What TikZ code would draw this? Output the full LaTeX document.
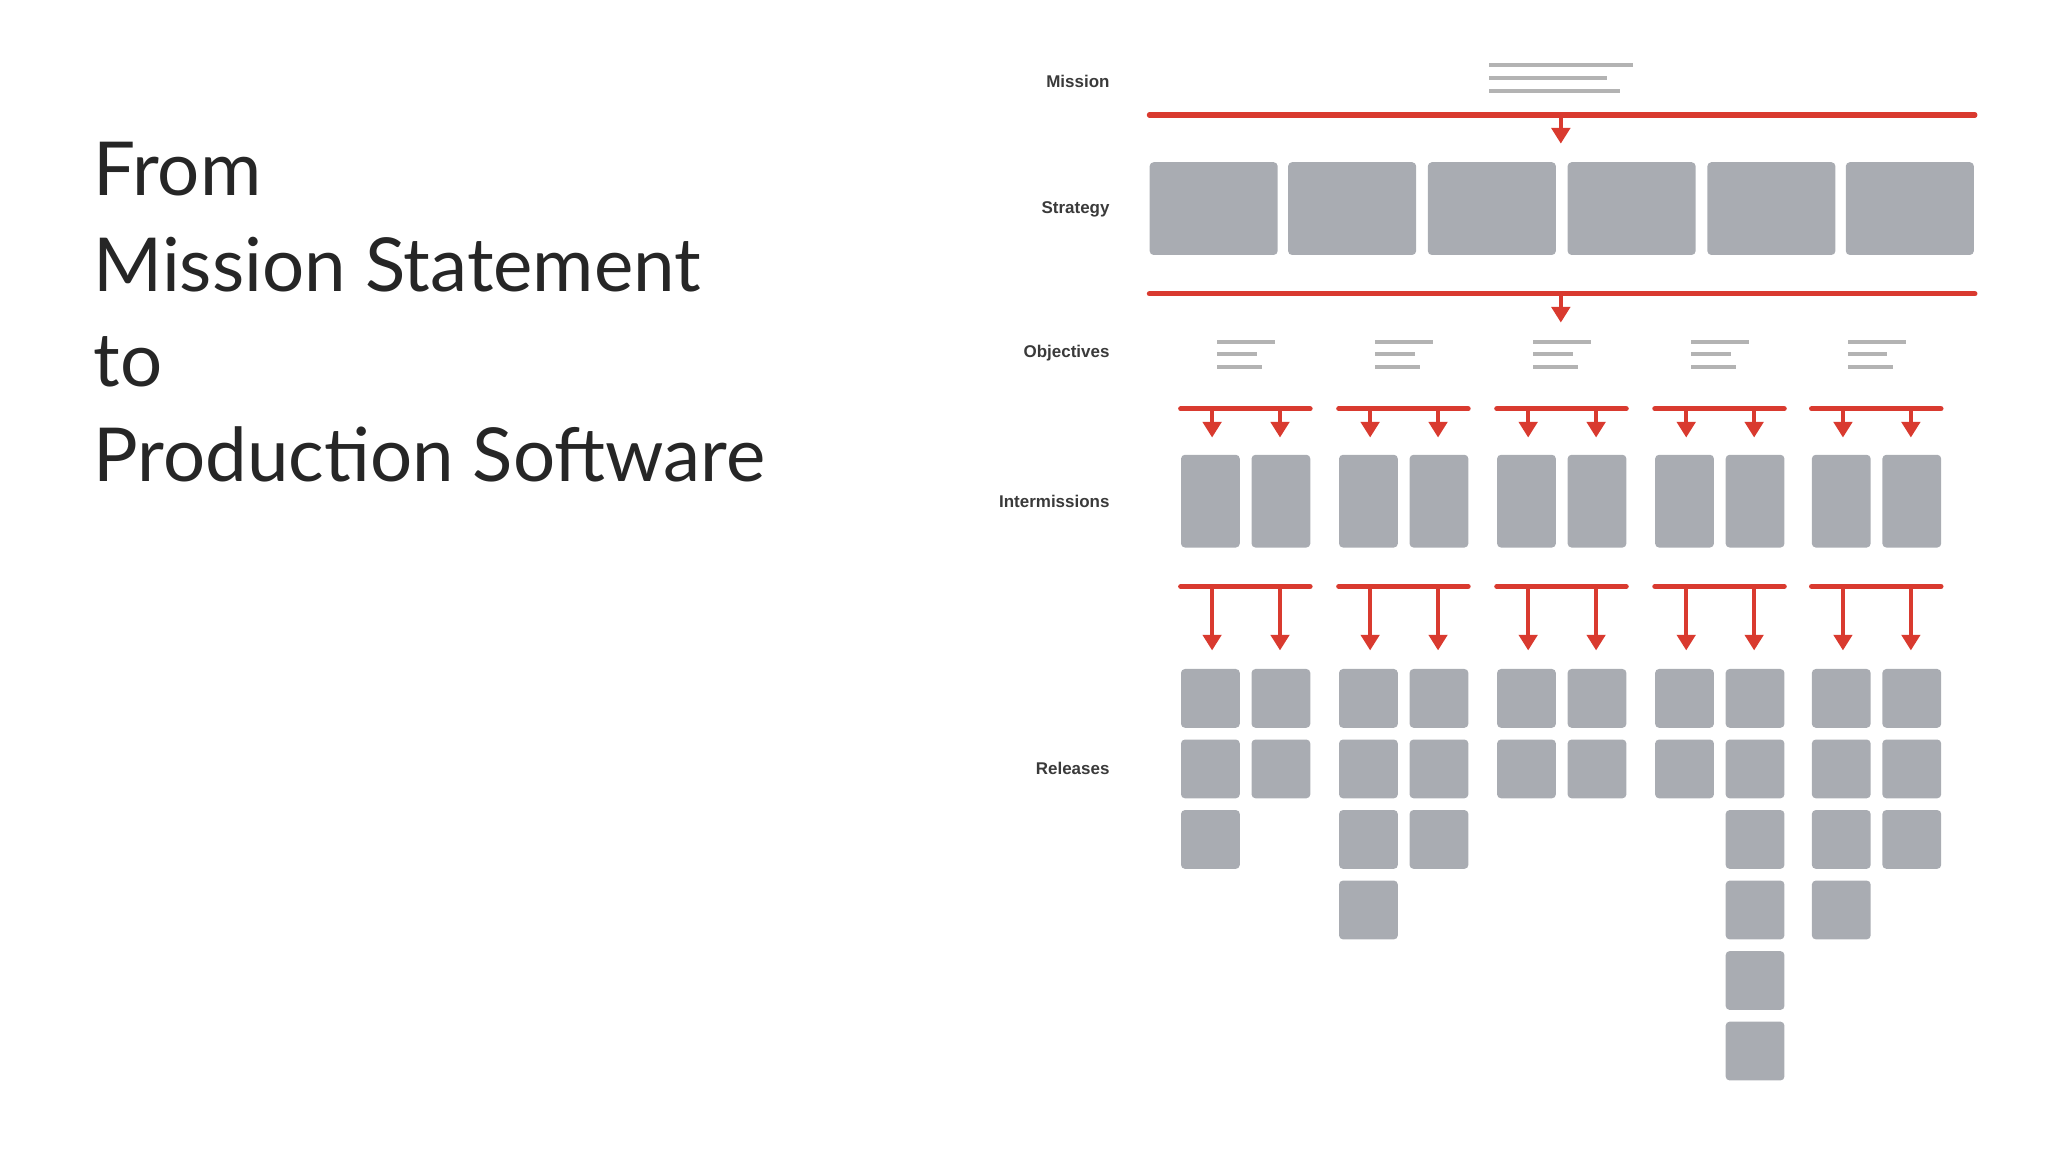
\documentclass[tikz,border=0pt]{standalone}
\usepackage{fontspec}
\setmainfont{Lato}
\newfontfamily\labfont{Liberation Sans}
\usetikzlibrary{arrows.meta}
\definecolor{myred}{HTML}{D93A2F}
\definecolor{boxgray}{HTML}{A9ACB2}
\definecolor{linegray}{HTML}{B3B3B3}
\definecolor{labcol}{HTML}{3A3A3A}
\tikzset{
  redbar/.style={myred,line width=4pt,line cap=round},
  redarr/.style={myred,line width=3pt,-{Triangle[width=14pt,length=12pt]}},
  gbox/.style={fill=boxgray,draw=none,rounded corners=3pt,inner sep=0pt,anchor=north west},
  tline/.style={linegray,line width=3pt},
  lab/.style={anchor=east,text=labcol,font=\labfont\fontsize{13}{15}\selectfont\bfseries},
  title/.style={anchor=base west,text=black!85,font=\fontsize{57}{60}\selectfont}
}
\begin{document}
\begin{tikzpicture}[x=1pt,y=-1pt]
\useasboundingbox (0,0) rectangle (1568,882);
% title
\node[title] (t1) at (68,150) {From};
\node[title] (t2) at (68,223) {Mission Statement};
\node[title] (t3) at (68,296) {to};
\node[title] (t4) at (68,369) {Production Software};
% labels
\node[lab] (lm) at (853,62) {Mission};
\node[lab] (ls) at (853,160) {Strategy};
\node[lab] (lo) at (853,270) {Objectives};
\node[lab] (li) at (853,384) {Intermissions};
\node[lab] (lr) at (853,588) {Releases};
% mission text
\draw[tline] (1140,50) -- (1250,50);
\draw[tline] (1140,60) -- (1230,60);
\draw[tline] (1140,70) -- (1240,70);
% bar 1
\coordinate (b1l) at (880,88); \coordinate (b1r) at (1512,88); \coordinate (b1m) at (1195,88);
\coordinate (b1e) at (1195,110);
\draw[redbar] (b1l) -- (b1r);
\draw[redarr] (b1m) -- (b1e);
% strategy
\foreach \x [count=\i] in {880,986,1093,1200,1307,1413}
  \node[gbox,minimum width=98pt,minimum height=71pt] (s\i) at (\x,124) {};
% bar 2
\coordinate (b2l) at (880,225); \coordinate (b2r) at (1512,225); \coordinate (b2m) at (1195,225);
\coordinate (b2e) at (1195,247);
\draw[redbar] (b2l) -- (b2r);
\draw[redarr] (b2m) -- (b2e);
% groups
\foreach \g/\na/\nb [count=\i] in {904/3/2,1025/4/3,1146/2/2,1267/2/6,1387/4/3}{
  % objective text icon
  \draw[tline] (\g+28,262) -- (\g+72,262);
  \draw[tline] (\g+28,271) -- (\g+58,271);
  \draw[tline] (\g+28,281) -- (\g+62,281);
  % bar
  \coordinate (ob\i l) at (\g,313); \coordinate (ob\i r) at (\g+99,313);
  \draw[redbar] (ob\i l) -- (ob\i r);
  \coordinate (oa\i) at (\g+24,313); \coordinate (oae\i) at (\g+24,335);
  \coordinate (ob\i) at (\g+76,313); \coordinate (obe\i) at (\g+76,335);
  \draw[redarr] (oa\i) -- (oae\i);
  \draw[redarr] (ob\i) -- (obe\i);
  % intermissions
  \node[gbox,minimum width=45pt,minimum height=71pt] (ia\i) at (\g,348) {};
  \node[gbox,minimum width=45pt,minimum height=71pt] (ib\i) at (\g+54,348) {};
  % bar
  \coordinate (rb\i l) at (\g,449); \coordinate (rb\i r) at (\g+99,449);
  \draw[redbar] (rb\i l) -- (rb\i r);
  \coordinate (ra\i) at (\g+24,449); \coordinate (rae\i) at (\g+24,498);
  \coordinate (rbb\i) at (\g+76,449); \coordinate (rbe\i) at (\g+76,498);
  \draw[redarr] (ra\i) -- (rae\i);
  \draw[redarr] (rbb\i) -- (rbe\i);
  % releases
  \foreach \k in {1,...,\na}
    \node[gbox,minimum width=45pt,minimum height=45pt] (ra\i-\k) at (\g,458+54*\k) {};
  \foreach \k in {1,...,\nb}
    \node[gbox,minimum width=45pt,minimum height=45pt] (rb\i-\k) at (\g+54,458+54*\k) {};
}
\end{tikzpicture}
\end{document}
